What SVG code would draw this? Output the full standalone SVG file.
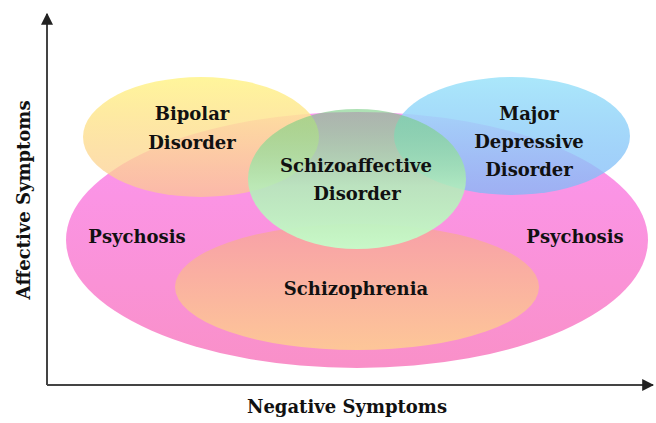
<svg xmlns="http://www.w3.org/2000/svg" width="656" height="423" viewBox="0 0 656 423">
<style>
text{font-family:"DejaVu Serif","Liberation Serif",serif;font-weight:bold;font-size:18px;fill:#111;text-anchor:middle}
.ax{stroke:#444;stroke-width:2;fill:none}
</style>
<defs>
<linearGradient id="gP" x1="0" y1="0" x2="0" y2="1"><stop offset="0" stop-color="#fc96f2"/><stop offset="1" stop-color="#f990c8"/></linearGradient>
<linearGradient id="gS" x1="0" y1="0" x2="0" y2="1"><stop offset="0" stop-color="#f8a0a8"/><stop offset="1" stop-color="#fdc698"/></linearGradient>
<linearGradient id="gY" x1="0" y1="0" x2="0" y2="1"><stop offset="0" stop-color="#fff596" stop-opacity="0.95"/><stop offset="1" stop-color="#fbc890" stop-opacity="0.7"/></linearGradient>
<linearGradient id="gB" x1="0" y1="0" x2="0" y2="1"><stop offset="0" stop-color="#a6e6fa" stop-opacity="0.95"/><stop offset="1" stop-color="#80b8f8" stop-opacity="0.75"/></linearGradient>
<linearGradient id="gG" x1="0" y1="0" x2="0" y2="1"><stop offset="0" stop-color="#6cc878" stop-opacity="0.55"/><stop offset="0.55" stop-color="#b0f0b8" stop-opacity="0.85"/><stop offset="1" stop-color="#c8f8c8" stop-opacity="1"/></linearGradient>
<marker id="arr" viewBox="0 0 10 10" refX="9" refY="5" markerWidth="6" markerHeight="6" orient="auto"><path d="M0,0 L10,5 L0,10 z" fill="#222"/></marker>
</defs>
<g id="connectors">
<path class="ax" d="M47,385 L47,14" marker-end="url(#arr)"/>
<path class="ax" d="M47,385 L653,385" marker-end="url(#arr)"/>
</g>
<g id="psychosis">
<ellipse cx="357" cy="240" rx="291" ry="128" fill="url(#gP)"/>
<text x="137" y="243">Psychosis</text>
<text x="575" y="243">Psychosis</text>
</g>
<g id="schizophrenia">
<ellipse cx="357" cy="287" rx="182" ry="63" fill="url(#gS)"/>
<text x="356" y="295">Schizophrenia</text>
</g>
<g id="bipolar">
<ellipse cx="201" cy="137" rx="118" ry="60" fill="url(#gY)"/>
<text x="192" y="120">Bipolar</text>
<text x="192" y="149">Disorder</text>
</g>
<g id="mdd">
<ellipse cx="512" cy="136" rx="118" ry="59" fill="url(#gB)"/>
<text x="529" y="120">Major</text>
<text x="529" y="148">Depressive</text>
<text x="529" y="176">Disorder</text>
</g>
<g id="schizoaffective">
<ellipse cx="357" cy="179" rx="109" ry="70" fill="url(#gG)"/>
<text x="356" y="172">Schizoaffective</text>
<text x="357" y="200">Disorder</text>
</g>
<g id="axis-labels">
<text x="347" y="413">Negative Symptoms</text>
<text transform="translate(30,200) rotate(-90)">Affective Symptoms</text>
</g>
</svg>
